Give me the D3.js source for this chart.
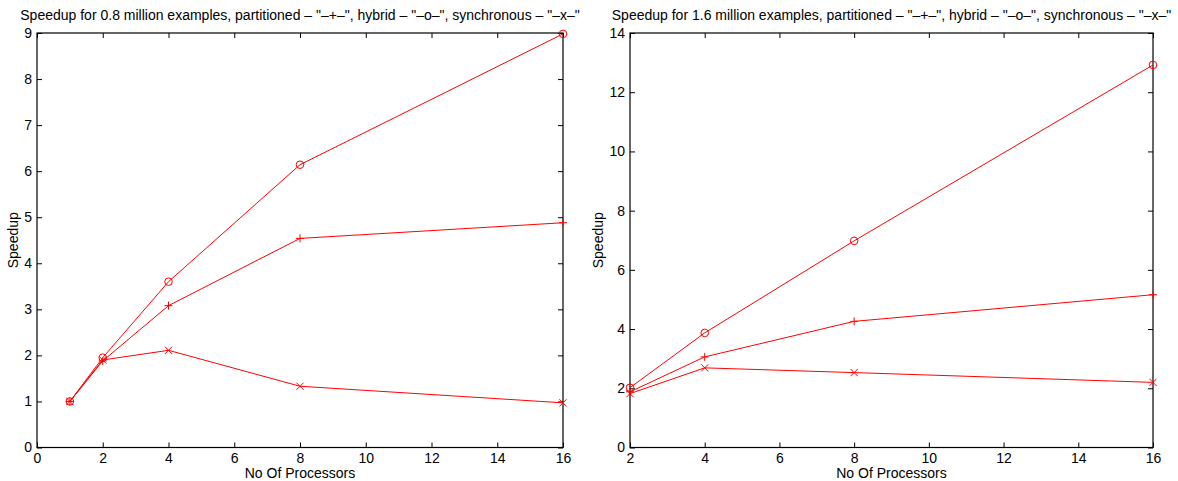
<!DOCTYPE html>
<html><head><meta charset="utf-8">
<script src="https://cdn.jsdelivr.net/npm/d3@7"></script>
<style>
body{margin:0;background:#fff;}
svg text{font-family:"Liberation Sans",Arial,sans-serif;fill:#000;}
</style></head>
<body><svg id="c" width="1178" height="481"></svg>
<script>
// ---- data ----
const procsLeft = [1, 2, 4, 8, 16];
const partitionedLeft = [1.0, 1.88, 3.08, 4.54, 4.88];
const hybridLeft = [1.0, 1.95, 3.60, 6.14, 8.98];
const synchronousLeft = [1.0, 1.90, 2.11, 1.33, 0.97];

const procsRight = [2, 4, 8, 16];
const partitionedRight = [1.88, 3.06, 4.26, 5.16];
const hybridRight = [2.02, 3.87, 6.98, 12.92];
const synchronousRight = [1.82, 2.69, 2.53, 2.20];

const xTicksLeft = [0, 2, 4, 6, 8, 10, 12, 14, 16];
const yTicksLeft = [0, 1, 2, 3, 4, 5, 6, 7, 8, 9];
const xTicksRight = [2, 4, 6, 8, 10, 12, 14, 16];
const yTicksRight = [0, 2, 4, 6, 8, 10, 12, 14];

const titleLeft = 'Speedup for 0.8 million examples, partitioned \u2013 "\u2013+\u2013", hybrid \u2013 "\u2013o\u2013", synchronous \u2013 "\u2013x\u2013"';
const titleRight = 'Speedup for 1.6 million examples, partitioned \u2013 "\u2013+\u2013", hybrid \u2013 "\u2013o\u2013", synchronous \u2013 "\u2013x\u2013"';

const svg = d3.select("#c");
const RED = "#ff0000";
const FS = 14;

function panel(o){
  const g = svg.append("g");
  const x = d3.scaleLinear().domain(o.xd).range([o.x0, o.x1]);
  const y = d3.scaleLinear().domain(o.yd).range([o.y1, o.y0]);
  const tl = 5;
  // frame
  g.append("rect").attr("x", o.x0).attr("y", o.y0).attr("width", o.x1-o.x0).attr("height", o.y1-o.y0)
    .attr("fill","none").attr("stroke","#000").attr("stroke-width",1.2);
  // axes
  const ax = d3.axisBottom(x).tickValues(o.xt).tickSize(-tl).tickPadding(6).tickFormat(d3.format("d"));
  const axT = d3.axisTop(x).tickValues(o.xt).tickSize(-tl).tickFormat("");
  const ay = d3.axisLeft(y).tickValues(o.yt).tickSize(-tl).tickPadding(5).tickFormat(d3.format("d"));
  const ayR = d3.axisRight(y).tickValues(o.yt).tickSize(-tl).tickFormat("");
  const style = s => { s.select(".domain").remove(); s.selectAll("line").attr("stroke","#000").attr("stroke-width",1);
    s.selectAll("text").attr("font-size",FS).attr("font-family",'"Liberation Sans",Arial,sans-serif'); };
  g.append("g").attr("transform",`translate(0,${o.y1})`).call(ax).call(style);
  g.append("g").attr("transform",`translate(0,${o.y0})`).call(axT).call(style);
  g.append("g").attr("transform",`translate(${o.x0},0)`).call(ay).call(style);
  g.append("g").attr("transform",`translate(${o.x1},0)`).call(ayR).call(style);
  // labels
  g.append("text").attr("x",(o.x0+o.x1)/2).attr("y",20).attr("text-anchor","middle").attr("font-size",FS).text(o.title);
  g.append("text").attr("x",(o.x0+o.x1)/2).attr("y",478).attr("text-anchor","middle").attr("font-size",FS).text("No Of Processors");
  g.append("text").attr("transform",`translate(${o.yl},${(o.y0+o.y1)/2}) rotate(-90)`).attr("text-anchor","middle").attr("font-size",FS).text("Speedup");
  // series
  const line = d3.line().x((d,i)=>x(o.px[i])).y(d=>y(d));
  const series = [
    {v:o.part, m:"plus"},
    {v:o.hyb, m:"circle"},
    {v:o.sync, m:"x"}
  ];
  series.forEach(s=>{
    g.append("path").attr("d", line(s.v)).attr("fill","none").attr("stroke",RED).attr("stroke-width",1);
    s.v.forEach((d,i)=>{
      const cx = x(o.px[i]), cy = y(d);
      if(s.m==="circle"){
        g.append("circle").attr("cx",cx).attr("cy",cy).attr("r",3.8).attr("fill","none").attr("stroke",RED).attr("stroke-width",1);
      } else if(s.m==="plus"){
        const r=4;
        g.append("path").attr("d",`M${cx-r},${cy}H${cx+r}M${cx},${cy-r}V${cy+r}`).attr("stroke",RED).attr("stroke-width",1);
      } else {
        const r=3.6;
        g.append("path").attr("d",`M${cx-r},${cy-r}L${cx+r},${cy+r}M${cx-r},${cy+r}L${cx+r},${cy-r}`).attr("stroke",RED).attr("stroke-width",1);
      }
    });
  });
}

panel({x0:37, x1:563, y0:33, y1:447.5, xd:[0,16], yd:[0,9], xt:xTicksLeft, yt:yTicksLeft,
  px:procsLeft, part:partitionedLeft, hyb:hybridLeft, sync:synchronousLeft, title:titleLeft, yl:18});
panel({x0:630, x1:1153, y0:33, y1:447.5, xd:[2,16], yd:[0,14], xt:xTicksRight, yt:yTicksRight,
  px:procsRight, part:partitionedRight, hyb:hybridRight, sync:synchronousRight, title:titleRight, yl:603});
</script></body></html>
